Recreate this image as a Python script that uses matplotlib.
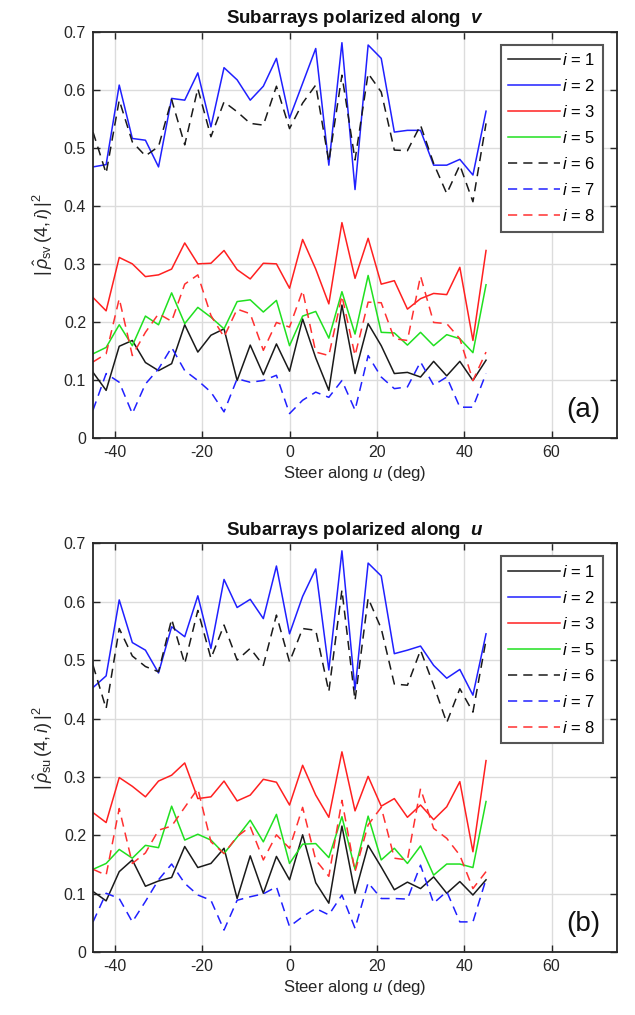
import matplotlib

matplotlib.use('Agg')

import matplotlib.pyplot as plt

plt.rcParams.update({
    'font.family': ['Liberation Sans', 'DejaVu Sans'],
    'mathtext.fontset': 'custom',
    'mathtext.rm': 'Liberation Sans',
    'mathtext.it': 'Liberation Sans:italic',
    'mathtext.bf': 'Liberation Sans:bold',
    'mathtext.bfit': 'Liberation Sans:italic:bold',
    'axes.unicode_minus': False,
})

# steering angles (deg)
steer = list(range(-45, 46, 3))

# ---- panel (a): subarrays polarized along v ----
v_i1 = [0.113, 0.082, 0.158, 0.168, 0.130, 0.116, 0.128, 0.195, 0.148, 0.177, 0.188,
        0.099, 0.160, 0.109, 0.162, 0.115, 0.205, 0.138, 0.082, 0.229, 0.111, 0.197,
        0.159, 0.111, 0.113, 0.105, 0.132, 0.107, 0.132, 0.099, 0.134]
v_i2 = [0.467, 0.471, 0.608, 0.516, 0.513, 0.467, 0.585, 0.582, 0.629, 0.536, 0.638,
        0.617, 0.582, 0.606, 0.654, 0.551, 0.611, 0.671, 0.470, 0.681, 0.428, 0.677,
        0.654, 0.527, 0.530, 0.530, 0.470, 0.470, 0.480, 0.453, 0.563]
v_i3 = [0.242, 0.219, 0.311, 0.300, 0.278, 0.281, 0.291, 0.336, 0.300, 0.301, 0.323,
        0.290, 0.274, 0.301, 0.300, 0.258, 0.342, 0.291, 0.231, 0.371, 0.275, 0.344,
        0.265, 0.271, 0.222, 0.240, 0.249, 0.247, 0.294, 0.168, 0.323]
v_i5 = [0.145, 0.156, 0.195, 0.159, 0.210, 0.195, 0.250, 0.197, 0.225, 0.208, 0.188,
        0.235, 0.238, 0.217, 0.237, 0.159, 0.210, 0.218, 0.172, 0.252, 0.179, 0.280,
        0.182, 0.181, 0.160, 0.182, 0.159, 0.178, 0.171, 0.147, 0.264]
v_i6 = [0.527, 0.456, 0.582, 0.510, 0.486, 0.502, 0.583, 0.505, 0.602, 0.519, 0.579,
        0.562, 0.542, 0.539, 0.606, 0.533, 0.577, 0.608, 0.476, 0.625, 0.479, 0.628,
        0.596, 0.496, 0.495, 0.539, 0.473, 0.421, 0.470, 0.407, 0.542]
v_i7 = [0.048, 0.111, 0.096, 0.042, 0.093, 0.119, 0.156, 0.116, 0.099, 0.079, 0.045,
        0.102, 0.096, 0.099, 0.108, 0.042, 0.065, 0.079, 0.070, 0.099, 0.048, 0.142,
        0.105, 0.085, 0.088, 0.131, 0.091, 0.105, 0.053, 0.053, 0.111]
v_i8 = [0.131, 0.145, 0.240, 0.142, 0.182, 0.214, 0.201, 0.265, 0.281, 0.211, 0.174,
        0.222, 0.214, 0.151, 0.199, 0.191, 0.254, 0.148, 0.142, 0.245, 0.142, 0.234,
        0.233, 0.171, 0.168, 0.279, 0.199, 0.197, 0.171, 0.099, 0.148]

# ---- panel (b): subarrays polarized along u ----
u_i1 = [0.104, 0.088, 0.138, 0.158, 0.113, 0.122, 0.128, 0.181, 0.145, 0.152, 0.178,
        0.092, 0.165, 0.101, 0.164, 0.124, 0.201, 0.119, 0.084, 0.216, 0.101, 0.183,
        0.146, 0.107, 0.120, 0.109, 0.129, 0.101, 0.121, 0.098, 0.124]
u_i2 = [0.453, 0.473, 0.603, 0.530, 0.517, 0.478, 0.557, 0.540, 0.610, 0.520, 0.638,
        0.590, 0.604, 0.571, 0.661, 0.545, 0.609, 0.656, 0.483, 0.687, 0.449, 0.666,
        0.644, 0.511, 0.517, 0.524, 0.491, 0.469, 0.484, 0.440, 0.545]
u_i3 = [0.239, 0.222, 0.299, 0.284, 0.266, 0.293, 0.303, 0.324, 0.263, 0.266, 0.293,
        0.259, 0.269, 0.296, 0.291, 0.252, 0.320, 0.269, 0.231, 0.343, 0.242, 0.301,
        0.250, 0.263, 0.231, 0.252, 0.227, 0.249, 0.292, 0.172, 0.328]
u_i5 = [0.142, 0.152, 0.176, 0.161, 0.183, 0.179, 0.250, 0.192, 0.202, 0.192, 0.169,
        0.197, 0.226, 0.189, 0.236, 0.152, 0.185, 0.186, 0.162, 0.232, 0.142, 0.233,
        0.158, 0.178, 0.152, 0.182, 0.132, 0.151, 0.151, 0.145, 0.258]
u_i6 = [0.491, 0.417, 0.554, 0.507, 0.489, 0.480, 0.570, 0.494, 0.585, 0.503, 0.560,
        0.500, 0.520, 0.491, 0.577, 0.497, 0.554, 0.551, 0.446, 0.620, 0.431, 0.606,
        0.554, 0.459, 0.457, 0.517, 0.457, 0.393, 0.451, 0.411, 0.534]
u_i7 = [0.052, 0.101, 0.092, 0.052, 0.087, 0.124, 0.151, 0.118, 0.098, 0.089, 0.038,
        0.089, 0.095, 0.100, 0.112, 0.044, 0.061, 0.075, 0.064, 0.098, 0.041, 0.119,
        0.092, 0.092, 0.091, 0.149, 0.084, 0.104, 0.052, 0.052, 0.125]
u_i8 = [0.142, 0.132, 0.246, 0.152, 0.170, 0.209, 0.216, 0.248, 0.280, 0.189, 0.169,
        0.198, 0.215, 0.158, 0.201, 0.178, 0.248, 0.158, 0.130, 0.260, 0.138, 0.218,
        0.248, 0.161, 0.158, 0.280, 0.212, 0.195, 0.166, 0.109, 0.138]

legend_labels = [r'$i$ = 1', r'$i$ = 2', r'$i$ = 3', r'$i$ = 5',
                 r'$i$ = 6', r'$i$ = 7', r'$i$ = 8']
line_colors = ['#1a1a1a', '#2020ff', '#ff2020', '#20e020', '#1a1a1a', '#2020ff', '#ff3030']
line_styles = ['-', '-', '-', '-', '--', '--', '--']

panels = [
    ([v_i1, v_i2, v_i3, v_i5, v_i6, v_i7, v_i8], 'v', 'sv', '(a)'),
    ([u_i1, u_i2, u_i3, u_i5, u_i6, u_i7, u_i8], 'u', 'su', '(b)'),
]

edge = '#262626'

fig = plt.figure(figsize=(6.35, 10.15), dpi=100)
ax_rects = [
    [0.1465, 0.5685, 0.8252, 0.4003],
    [0.1465, 0.0618, 0.8252, 0.4030],
]

for rect, (series, pol, sub, tag) in zip(ax_rects, panels):
    ax = fig.add_axes(rect)
    for vals, col, ls, lab in zip(series, line_colors, line_styles, legend_labels):
        line, = ax.plot(steer, vals, color=col, linestyle=ls, linewidth=1.1, label=lab)
        if ls == '--':
            line.set_dashes((6, 4))

    ax.set_xlim(-45, 75)
    ax.set_ylim(0, 0.7)
    ax.set_xticks([-40, -20, 0, 20, 40, 60])
    ax.set_yticks([0, 0.1, 0.2, 0.3, 0.4, 0.5, 0.6, 0.7])
    ax.set_yticklabels(['0', '0.1', '0.2', '0.3', '0.4', '0.5', '0.6', '0.7'])
    ax.grid(True, color='#dcdcdc', linewidth=1.0)
    ax.set_axisbelow(True)
    ax.tick_params(direction='in', top=True, right=True, length=5, width=1.0,
                   colors=edge, labelsize=11.5, labelcolor=edge, pad=5)
    for sp in ax.spines.values():
        sp.set_color(edge)
        sp.set_linewidth(1.3)

    ax.set_title('Subarrays polarized along  ' + r'$\boldsymbol{%s}$' % pol,
                 fontsize=13.5, fontweight='bold', color='#111111', pad=6)
    ax.set_xlabel(r'Steer along $u$ (deg)', fontsize=12, color=edge, labelpad=3)
    ax.set_ylabel(r'$|\,\hat{\rho}_{\rm %s}\,(4,i)\,|^2$' % sub,
                  fontsize=13, color=edge, labelpad=6)

    leg = ax.legend(loc='upper right', bbox_to_anchor=(0.973, 0.968), borderaxespad=0,
                    fontsize=12, labelspacing=0.6, handlelength=3.1, handletextpad=0.15,
                    borderpad=0.45, fancybox=False, framealpha=1)
    leg.get_frame().set_edgecolor('#555555')
    leg.get_frame().set_linewidth(1.5)

    ax.text(0.935, 0.07, tag, transform=ax.transAxes, fontsize=20,
            ha='center', va='center', color='#111111')

fig.savefig('out.png', dpi=100)
